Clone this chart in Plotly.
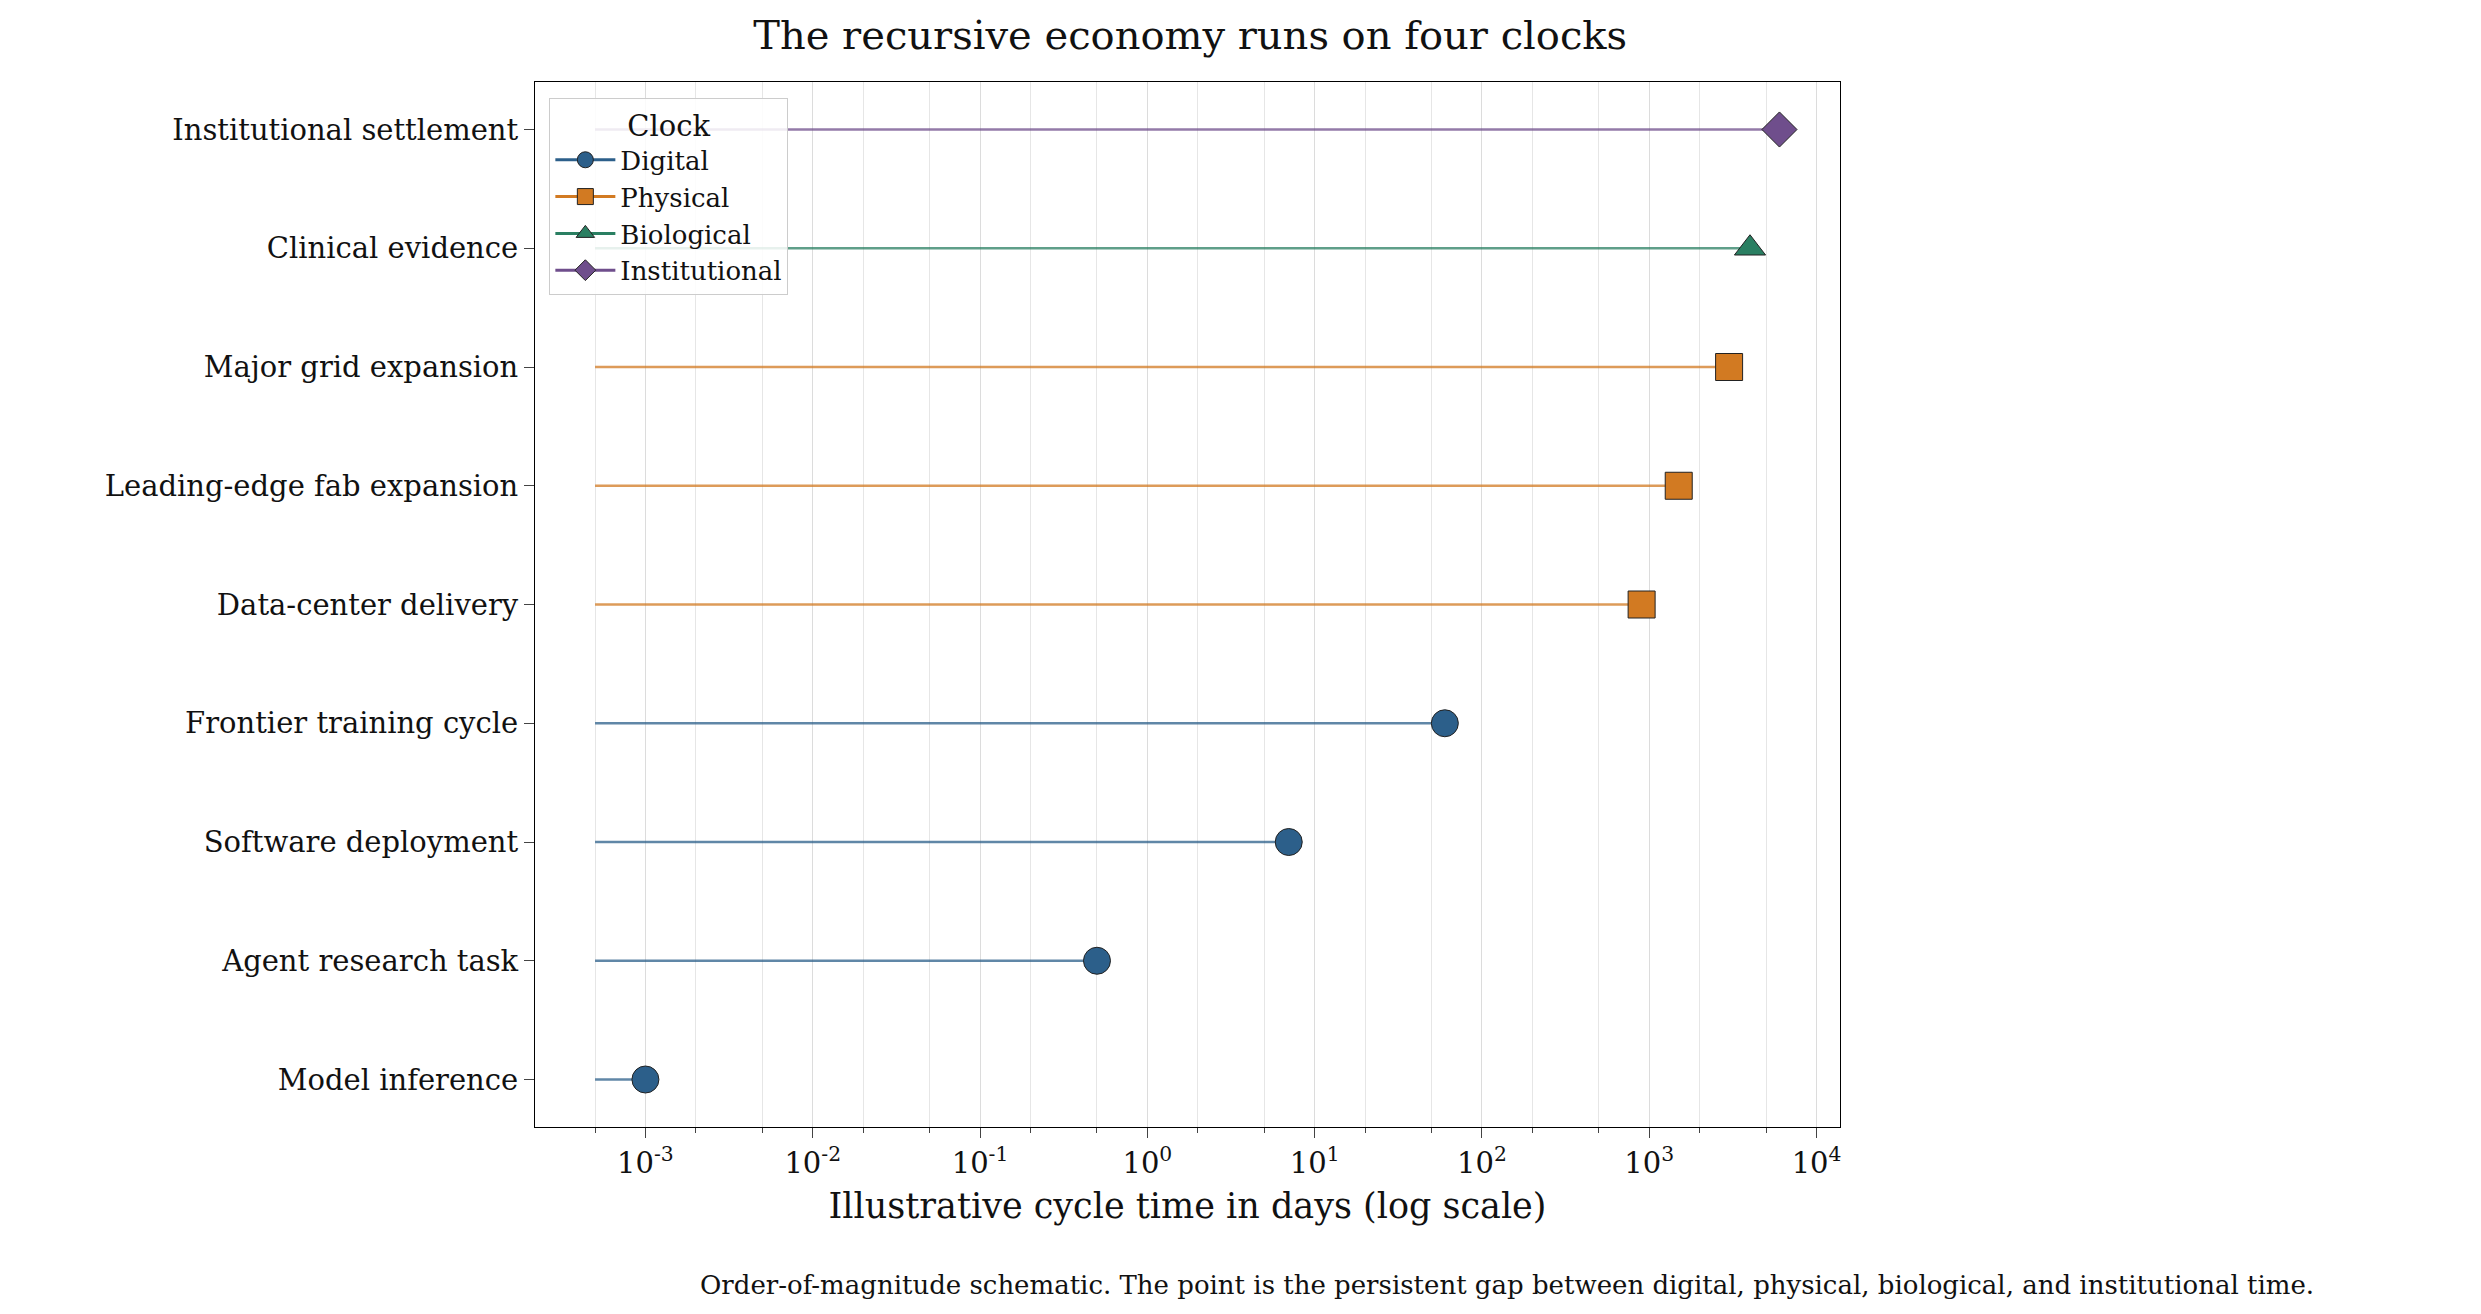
import plotly.graph_objects as go

categories = ["Model inference", "Agent research task", "Software deployment",
              "Frontier training cycle", "Data-center delivery", "Leading-edge fab expansion",
              "Major grid expansion", "Clinical evidence", "Institutional settlement"]
clocks = ["Digital", "Digital", "Digital", "Digital", "Physical", "Physical",
          "Physical", "Biological", "Institutional"]
days = [0.001, 0.5, 7, 60, 900, 1500, 3000, 4000, 6000]
line_start = 0.0005

clock_order = ["Digital", "Physical", "Biological", "Institutional"]
colors = {"Digital": "#2c5f8a", "Physical": "#d27a22",
          "Biological": "#2a7f62", "Institutional": "#6f4e8c"}
symbols = {"Digital": "circle", "Physical": "square",
           "Biological": "triangle-up", "Institutional": "diamond"}

font = "DejaVu Serif"
fig = go.Figure()

for cat, clk, d in zip(categories, clocks, days):
    fig.add_trace(go.Scatter(x=[line_start, d], y=[cat, cat], mode="lines",
                             line=dict(color=colors[clk], width=2.5), opacity=0.75,
                             showlegend=False, hoverinfo="skip"))
for cat, clk, d in zip(categories, clocks, days):
    fig.add_trace(go.Scatter(x=[d], y=[cat], mode="markers", showlegend=False,
                             marker=dict(symbol=symbols[clk], color=colors[clk], size=27,
                                         line=dict(color="#222", width=1))))
for clk in clock_order:
    fig.add_trace(go.Scatter(x=[None], y=[None], mode="lines+markers", name=clk,
                             line=dict(color=colors[clk], width=3),
                             marker=dict(symbol=symbols[clk], color=colors[clk], size=16,
                                         line=dict(color="#222", width=1))))

tickvals = [10.0 ** p for p in range(-3, 5)]
ticktext = [f"10<sup>{p}</sup>" for p in range(-3, 5)]

fig.update_layout(
    width=2481, height=1314, plot_bgcolor="white", paper_bgcolor="white",
    margin=dict(l=527, r=649, t=74, b=195),
    font=dict(family=font, size=29, color="#111"),
    title=dict(text="The recursive economy runs on four clocks", x=0.4765, xanchor="center",
               y=0.99, yanchor="top", font=dict(size=40)),
    legend=dict(title=dict(text="Clock", side="top center", font=dict(size=29)), x=0.011, y=0.985,
                xanchor="left", yanchor="top", bgcolor="rgba(255,255,255,0.85)",
                bordercolor="#ccc", borderwidth=1, font=dict(size=26), itemwidth=60,
                tracegroupgap=6),
    xaxis=dict(type="log", range=[-3.66, 4.14], tickvals=tickvals, ticktext=ticktext,
               showgrid=True, gridcolor="#dcdcdc", ticks="outside", ticklen=10,
               minor=dict(showgrid=True, gridcolor="#e6e6e6", ticks="outside", ticklen=5),
               showline=True, linecolor="black", mirror=True, zeroline=False,
               title=dict(text="Illustrative cycle time in days (log scale)", standoff=14)),
    yaxis=dict(categoryorder="array", categoryarray=categories, range=[-0.4, 8.4],
               showgrid=False, ticks="outside", ticklen=10, showline=True,
               linecolor="black", mirror=True, zeroline=False),
)
fig.add_annotation(text="Order-of-magnitude schematic. The point is the persistent gap between digital, "
                        "physical, biological, and institutional time.",
                   xref="paper", yref="paper", x=0.745, y=-0.135, xanchor="center", yanchor="top",
                   showarrow=False, font=dict(size=26))
fig.write_html("out.html")
